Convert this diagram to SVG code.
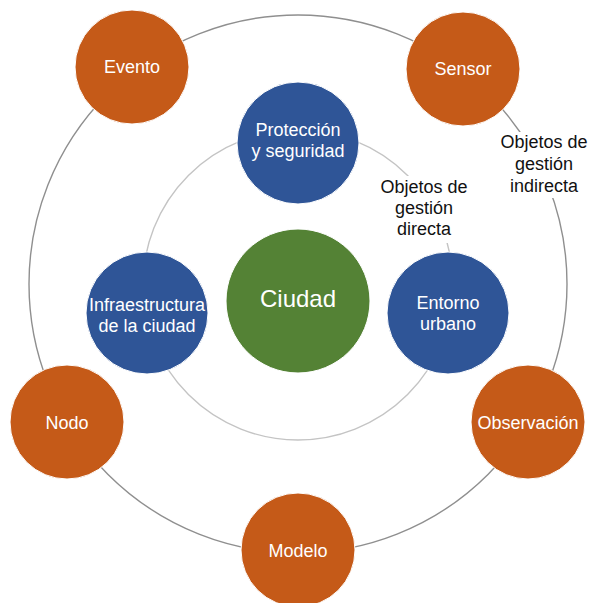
<svg xmlns="http://www.w3.org/2000/svg" width="591" height="603" viewBox="0 0 591 603">
<style>
.orb{fill:none;stroke-width:1.4}
.o{fill:#C55A18;stroke:#fff;stroke-width:1}
.b{fill:#2F5597;stroke:#fff;stroke-width:1}
.g{fill:#548235;stroke:#fff;stroke-width:1}
.t{font-family:"Liberation Sans",Arial,sans-serif;font-size:18px;fill:#fff;text-anchor:middle}
.l{font-family:"Liberation Sans",Arial,sans-serif;font-size:18px;fill:#111;text-anchor:middle}
</style>
<rect width="591" height="603" fill="#fff"/>
<g id="connectors">
<circle class="orb" cx="298" cy="284" r="269" stroke="#8f8f8f"/>
<circle class="orb" cx="298" cy="285" r="155" stroke="#c4c4c4"/>
</g>
<g id="label-directa">
<rect x="376" y="176" width="96" height="67" fill="#fff"/>
<text class="l" x="424" y="193">Objetos de</text>
<text class="l" x="424" y="214">gestión</text>
<text class="l" x="424" y="235">directa</text>
</g>
<g id="label-indirecta">
<rect x="497" y="132" width="94" height="66" fill="#fff"/>
<text class="l" x="544" y="148">Objetos de</text>
<text class="l" x="544" y="170">gestión</text>
<text class="l" x="544" y="192">indirecta</text>
</g>
<g id="evento"><circle class="o" cx="132" cy="67" r="57"/><text class="t" x="132" y="73">Evento</text></g>
<g id="sensor"><circle class="o" cx="463" cy="69" r="57"/><text class="t" x="463" y="75">Sensor</text></g>
<g id="nodo"><circle class="o" cx="67" cy="422" r="57"/><text class="t" x="67" y="429">Nodo</text></g>
<g id="observacion"><circle class="o" cx="528" cy="422" r="57"/><text class="t" x="528" y="429">Observación</text></g>
<g id="modelo"><circle class="o" cx="298" cy="550" r="57"/><text class="t" x="298" y="557">Modelo</text></g>
<g id="proteccion"><circle class="b" cx="298" cy="143" r="61"/><text class="t" x="298" y="136">Protección</text><text class="t" x="298" y="157">y seguridad</text></g>
<g id="infraestructura"><circle class="b" cx="147" cy="313" r="61"/><text class="t" x="147" y="311">Infraestructura</text><text class="t" x="147" y="332">de la ciudad</text></g>
<g id="entorno"><circle class="b" cx="448" cy="313" r="61"/><text class="t" x="448" y="309">Entorno</text><text class="t" x="448" y="330">urbano</text></g>
<g id="ciudad"><circle class="g" cx="298" cy="301" r="72"/><text class="t" x="298" y="307" style="font-size:24px">Ciudad</text></g>
</svg>
